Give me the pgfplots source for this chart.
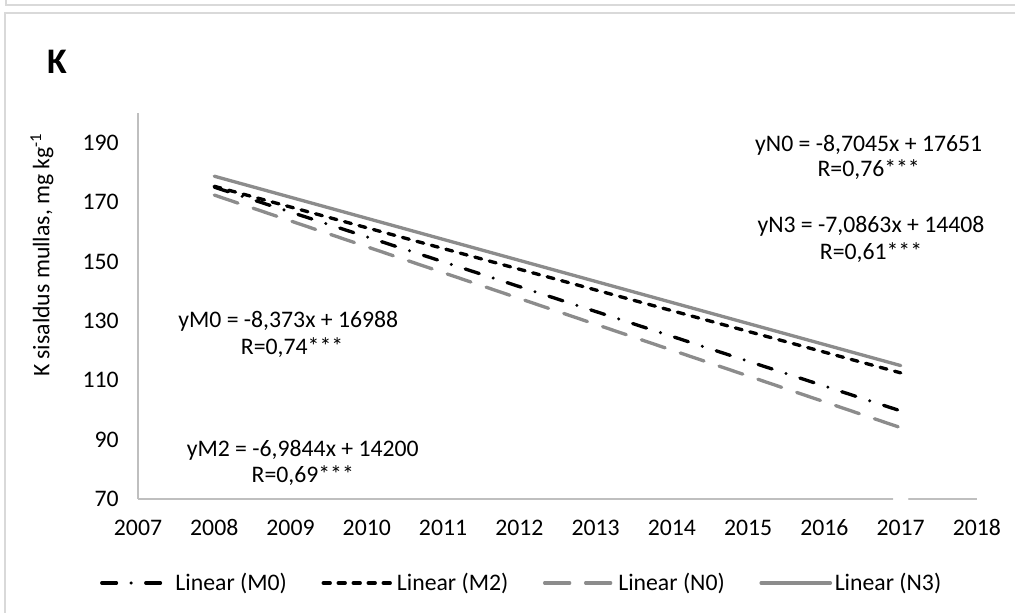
\documentclass[border=0pt]{standalone}
\usepackage{fontspec}
\setmainfont{Carlito}
\usepackage{pgfplots}
\pgfplotsset{compat=1.18}

\definecolor{framegray}{HTML}{D9D9D9}
\definecolor{axisgray}{HTML}{BFBFBF}
\definecolor{trendgray}{HTML}{8C8C8C}

% trend lines, value at 2008 and 2017 (from the fitted equations)
\pgfplotstableread{
year  M0      M2      N0      N3
2008  175.02  175.32  172.36  178.71
2017  99.66   112.47  94.02   114.93
}\trends

\begin{document}
\begin{tikzpicture}[font=\fontsize{17.8}{20}\selectfont]
  \useasboundingbox (0,0) rectangle (761.25pt,459.75pt);
  % chart frames
  \draw[framegray, line width=1.2pt] (4.5pt,459.75pt) -- (4.5pt,456pt) -- (761.25pt,456pt);
  \draw[framegray, line width=1.2pt] (761.25pt,450pt) -- (3.75pt,450pt) -- (3.75pt,0pt);

  \begin{axis}[
    at={(103.5pt,85.5pt)}, anchor=south west,
    scale only axis, width=629.25pt, height=289.5pt,
    xmin=2007, xmax=2018, ymin=70, ymax=200,
    xtick={2007,...,2018}, ytick={70,90,...,190},
    axis lines*=left,
    axis line style={axisgray, line width=0.8pt},
    major tick length=0pt, tick style={draw=none},
    /pgf/number format/assume math mode=true,
    /pgf/number format/1000 sep={},
    x tick label style={anchor=north, text height=12pt, text depth=0pt, yshift=-12pt},
    y tick label style={anchor=east, xshift=-11pt},
    clip=false,
    legend columns=4,
    legend cell align=left,
    legend style={at={(0.4577,-0.2176)}, anchor=center, draw=none,
      font=\fontsize{17.8}{20}\selectfont,
      nodes={inner sep=2pt},
      /tikz/every even column/.append style={column sep=24pt}},
    legend image code/.code={\draw[#1] (0pt,0pt) -- (52pt,0pt);},
  ]
    \addplot[black, line width=2.5pt, line cap=round,
      dash pattern=on 11pt off 11pt on 0pt off 11pt]
      table[x=year, y=M0] {\trends};
    \addlegendentry{Linear (M0)}
    \addplot[black, line width=2.5pt, line cap=round,
      dash pattern=on 5.25pt off 6pt]
      table[x=year, y=M2] {\trends};
    \addlegendentry{Linear (M2)}
    \addplot[trendgray, line width=2.5pt, line cap=round,
      dash pattern=on 18.75pt off 12pt]
      table[x=year, y=N0] {\trends};
    \addlegendentry{Linear (N0)}
    \addplot[trendgray, line width=2.5pt, line cap=round]
      table[x=year, y=N3] {\trends};
    \addlegendentry{Linear (N3)}
    % hidden point that breaks the axis line at 2017
    \addplot[forget plot, only marks, mark=*, mark size=5.5pt,
      mark options={fill=white, draw=white}] coordinates {(2017,70)};

    \node at (axis cs:2016.58,189.2) {yN0 = -8,7045x + 17651};
    \node at (axis cs:2016.58,180.8) {R=0,76***};
    \node at (axis cs:2016.61,161.8) {yN3 = -7,0863x + 14408};
    \node at (axis cs:2016.61,153.1) {R=0,61***};
    \node at (axis cs:2008.97,129.9) {yM0 = -8,373x + 16988};
    \node at (axis cs:2009.02,121.0) {R=0,74***};
    \node at (axis cs:2009.16,86.4) {yM2 = -6,9844x + 14200};
    \node at (axis cs:2009.16,77.9) {R=0,69***};
  \end{axis}

  \node[rotate=90] at (31.5pt,268.5pt)
    {K sisaldus mullas, mg kg\textsuperscript{-1}};
  \node[font=\fontsize{27}{30}\selectfont\bfseries] at (42.75pt,413.25pt) {K};
\end{tikzpicture}
\end{document}
